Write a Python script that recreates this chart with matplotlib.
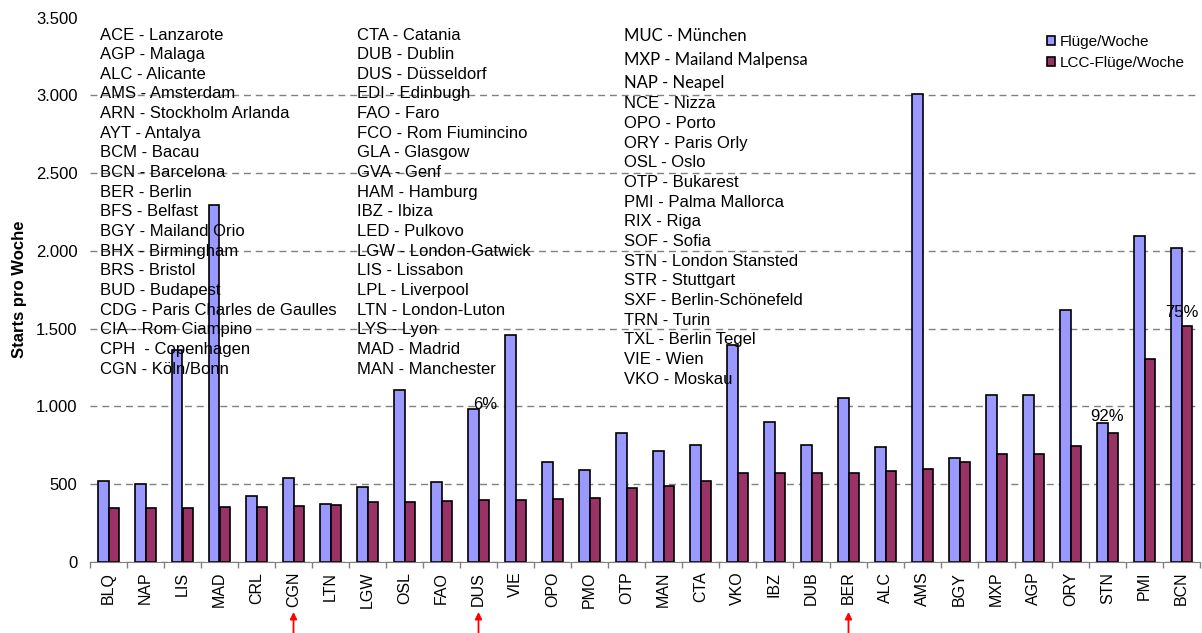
import numpy as np
import matplotlib
matplotlib.use("Agg")
import matplotlib.pyplot as plt
from matplotlib.ticker import FuncFormatter

plt.rcParams['font.family'] = ['Liberation Sans', 'DejaVu Sans']

airports = ['BLQ', 'NAP', 'LIS', 'MAD', 'CRL', 'CGN', 'LTN', 'LGW', 'OSL', 'FAO',
            'DUS', 'VIE', 'OPO', 'PMO', 'OTP', 'MAN', 'CTA', 'VKO', 'IBZ', 'DUB',
            'BER', 'ALC', 'AMS', 'BGY', 'MXP', 'AGP', 'ORY', 'STN', 'PMI', 'BCN']
flights = [520, 500, 1360, 2295, 425, 542, 375, 485, 1107, 517,
           985, 1460, 643, 592, 828, 716, 753, 1398, 897, 749,
           1053, 736, 3010, 671, 1075, 1075, 1617, 894, 2098, 2020]
lcc_flights = [345, 345, 345, 352, 356, 362, 367, 384, 388, 395,
               399, 399, 405, 414, 478, 489, 521, 573, 573, 573,
               573, 584, 598, 645, 695, 695, 746, 826, 1306, 1514]

marked = ['CGN', 'DUS', 'BER']
# (airport, text, which bar it sits on)
pct_labels = [('DUS', '6%', 'flights'), ('STN', '92%', 'flights'), ('BCN', '75%', 'lcc')]
pct_offsets = {'DUS': (5, 0), 'STN': (0, 1.5), 'BCN': (0, 7)}

col1 = ['ACE - Lanzarote', 'AGP - Malaga', 'ALC - Alicante', 'AMS - Amsterdam',
        'ARN - Stockholm Arlanda', 'AYT - Antalya', 'BCM - Bacau', 'BCN - Barcelona',
        'BER - Berlin', 'BFS - Belfast', 'BGY - Mailand Orio', 'BHX - Birmingham',
        'BRS - Bristol', 'BUD - Budapest', 'CDG - Paris Charles de Gaulles',
        'CIA - Rom Ciampino', 'CPH  - Copenhagen', 'CGN - Köln/Bonn']
col2 = ['CTA - Catania', 'DUB - Dublin', 'DUS - Düsseldorf', 'EDI - Edinbugh',
        'FAO - Faro', 'FCO - Rom Fiumincino', 'GLA - Glasgow', 'GVA - Genf',
        'HAM - Hamburg', 'IBZ - Ibiza', 'LED - Pulkovo', 'LGW - London-Gatwick',
        'LIS - Lissabon', 'LPL - Liverpool', 'LTN - London-Luton', 'LYS - Lyon',
        'MAD - Madrid', 'MAN - Manchester']
col3_top = ['MUC - München', 'MXP - Mailand Malpensa', 'NAP - Neapel']
col3 = ['NCE - Nizza', 'OPO - Porto', 'ORY - Paris Orly', 'OSL - Oslo',
        'OTP - Bukarest', 'PMI - Palma Mallorca', 'RIX - Riga', 'SOF - Sofia',
        'STN - London Stansted', 'STR - Stuttgart', 'SXF - Berlin-Schönefeld',
        'TRN - Turin', 'TXL - Berlin Tegel', 'VIE - Wien', 'VKO - Moskau']

W, H = 1202, 633
fig = plt.figure(figsize=(W / 100, H / 100), dpi=100)
ax = fig.add_axes([90 / W, 71 / H, 1110 / W, 544.5 / H])

x = np.arange(len(airports))
bw = 0.29
ax.bar(x - bw / 2, flights, bw, color='#9999FF', edgecolor='black', linewidth=1.2,
       label='Flüge/Woche', zorder=3)
ax.bar(x + bw / 2, lcc_flights, bw, color='#993366', edgecolor='black', linewidth=1.2,
       label='LCC-Flüge/Woche', zorder=3)

ax.set_xlim(-0.5, len(airports) - 0.5)
ax.set_ylim(0, 3500)
ax.set_yticks(np.arange(0, 3501, 500))
ax.yaxis.set_major_formatter(FuncFormatter(lambda v, p: f'{int(v):,}'.replace(',', '.')))
ax.tick_params(axis='y', length=0, pad=9, labelsize=12)

ax.set_xticks(x)
ax.set_xticklabels(airports, rotation=90, fontsize=11.5)
ax.set_xticks(np.arange(-0.5, len(airports), 1), minor=True)
ax.tick_params(axis='x', which='major', length=0, pad=7)
ax.tick_params(axis='x', which='minor', length=4, color='#808080', width=1)

ax.yaxis.grid(True, color='#808080', linestyle=(0, (5, 3.5)), linewidth=1, zorder=0)
ax.get_ygridlines()[-1].set_visible(False)
for s in ['top', 'right', 'left']:
    ax.spines[s].set_visible(False)
ax.spines['bottom'].set_color('#808080')
ax.spines['bottom'].set_zorder(4)

ax.set_ylabel('Starts pro Woche', fontsize=12, fontweight='bold')
ax.yaxis.set_label_coords(-63 / 1110, 0.5)

# percentage notes above selected bars
for code, txt, which in pct_labels:
    i = airports.index(code)
    val = flights[i] if which == 'flights' else lcc_flights[i]
    ax.annotate(txt, xy=(i, val), xytext=pct_offsets[code], textcoords='offset points',
                ha='center', va='baseline', fontsize=12, zorder=5)

# red arrows under the highlighted airports
for code in marked:
    i = airports.index(code)
    ax.annotate('', xy=(i, -50 / 544.5), xytext=(i, -71 / 544.5),
                xycoords=ax.get_xaxis_transform(), textcoords=ax.get_xaxis_transform(),
                arrowprops=dict(arrowstyle='-|>', color='red', lw=1.3,
                                mutation_scale=10, shrinkA=0, shrinkB=0),
                annotation_clip=False)

# airport code key
step = 19.65
for k, t in enumerate(col1):
    fig.text(100 / W, 1 - (35 + k * step) / H, t, fontsize=12, va='center', zorder=6)
for k, t in enumerate(col2):
    fig.text(357 / W, 1 - (35 + k * step) / H, t, fontsize=12, va='center', zorder=6)
for k, t in enumerate(col3_top):
    fig.text(624 / W, 1 - (36 + k * 23.5) / H, t, fontsize=12, va='center',
             family=['Lato', 'DejaVu Sans'], zorder=6)
for k, t in enumerate(col3):
    fig.text(624 / W, 1 - (104 + k * step) / H, t, fontsize=12, va='center', zorder=6)

ax.legend(loc='upper left', bbox_to_anchor=(1047 / W, 1 - 35 / H),
          bbox_transform=fig.transFigure, frameon=False, fontsize=11,
          handlelength=0.55, handleheight=0.55, handletextpad=0.3,
          labelspacing=0.45, borderpad=0, borderaxespad=0)

fig.savefig('out.png', dpi=100)
